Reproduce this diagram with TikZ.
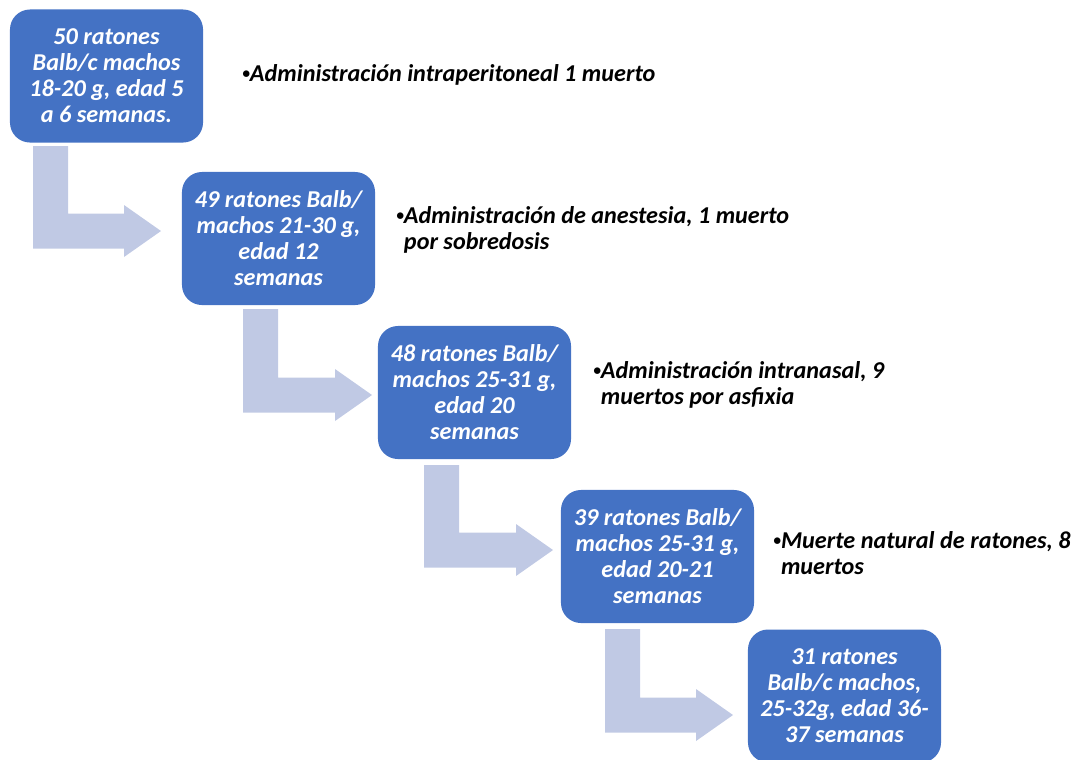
\documentclass[tikz,border=0pt]{standalone}
\usepackage{fontspec}
\setmainfont{Carlito}
\definecolor{boxblue}{RGB}{68,114,196}
\definecolor{arrowblue}{RGB}{192,201,228}
\newcommand{\notebullet}{\raisebox{2.2pt}{\fontsize{11}{11}\selectfont\textbullet}}
\tikzset{
  ratbox/.style={fill=boxblue, rounded corners=0.5cm, minimum width=4.825cm, minimum height=3.325cm,
    text=white, align=center, inner sep=0pt, font=\fontsize{17.2}{18.5}\selectfont\bfseries\itshape},
  note/.style={anchor=west, align=left, inner sep=0pt, font=\fontsize{17.2}{18.5}\selectfont\bfseries\itshape}
}
\newcommand{\bentarrow}[4]{%
  \fill[arrowblue] (#1,#2) -- (#1+35,#2) -- (#1+35,#3-17.5) -- (#4-37,#3-17.5) -- (#4-37,#3-26)
    -- (#4,#3) -- (#4-37,#3+26) -- (#4-37,#3+17.5) -- (#1,#3+17.5) -- cycle;}
\begin{document}
\begin{tikzpicture}[x=0.025cm, y=-0.025cm]
  \useasboundingbox (0,0) rectangle (1075,759);
  \bentarrow{33}{146}{231}{161}
  \bentarrow{243}{309}{395}{372}
  \bentarrow{424}{465}{550}{553}
  \bentarrow{605}{629}{715}{733}
  \node[ratbox] (r50) at (106.5,76) {50 ratones\\Balb/c machos\\18-20 g, edad 5\\a 6 semanas.};
  \node[ratbox] (r49) at (278.5,238.5) {49 ratones Balb/\\machos 21-30 g,\\edad 12\\semanas};
  \node[ratbox] (r48) at (474.5,392.5) {48 ratones Balb/\\machos 25-31 g,\\edad 20\\semanas};
  \node[ratbox] (r39) at (657.5,556.5) {39 ratones Balb/\\machos 25-31 g,\\edad 20-21\\semanas};
  \node[ratbox] (r31) at (844.5,696) {31 ratones\\Balb/c machos,\\25-32g, edad 36-\\37 semanas};
  \node[note] (n1) at (242,75) {\notebullet Administración intraperitoneal 1 muerto};
  \node[note] (n2) at (396,230) {\notebullet Administración de anestesia, 1 muerto\\\hphantom{\notebullet}por sobredosis};
  \node[note] (n3) at (593,385) {\notebullet Administración intranasal, 9\\\hphantom{\notebullet}muertos por asfixia};
  \node[note] (n4) at (773,553) {\notebullet Muerte natural de ratones, 8\\\hphantom{\notebullet}muertos};
\end{tikzpicture}
\end{document}
